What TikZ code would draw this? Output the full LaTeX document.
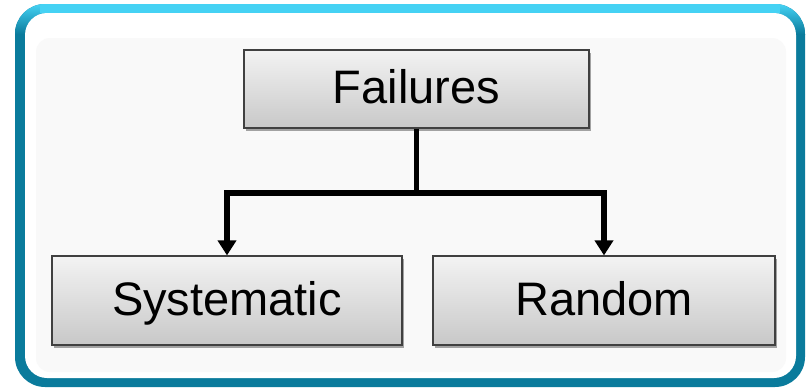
\documentclass[tikz,border=0pt]{standalone}
\usepackage{fontspec}
\setmainfont{Liberation Sans}
\usetikzlibrary{arrows.meta,shadows}
\definecolor{tealdark}{HTML}{0A7B9C}
\definecolor{cyanlight}{HTML}{45D2F4}
\definecolor{boxtop}{HTML}{F3F3F3}
\definecolor{boxbot}{HTML}{C8C8C8}
\definecolor{boxline}{HTML}{404040}
\definecolor{panel}{HTML}{F9F9F9}
\tikzset{
  boxnode/.style={rectangle, draw=boxline, line width=1.2pt, top color=boxtop, bottom color=boxbot,
    inner sep=0pt, font=\fontsize{47}{56}\selectfont, text height=33.7pt, text depth=3pt,
    drop shadow={shadow xshift=2pt, shadow yshift=-3pt, opacity=0.35, fill=black}},
  conn/.style={line width=5.5pt, -{Triangle[length=15pt,width=18pt]}},
  trunk/.style={line width=5.5pt}
}
\begin{document}
\begin{tikzpicture}[x=1pt,y=-1pt]
\useasboundingbox (0,0) rectangle (807,389);
% outer frame
\fill[tealdark, rounded corners=30pt] (15,4) rectangle (805,387);
\begin{scope}
  \clip[rounded corners=30pt] (15,4) rectangle (805,387);
  \shade[top color=cyanlight, bottom color=tealdark] (15,4) rectangle (805,34);
  \fill[cyanlight] (40,4) rectangle (780,13);
\end{scope}
\fill[white, rounded corners=22pt] (25,13) rectangle (796,378);
\fill[panel, rounded corners=14pt] (36,38) rectangle (786,372);
% nodes
\node[boxnode, minimum width=345pt, minimum height=78pt, text depth=5pt] (fail) at (416.5,89) {Failures};
\node[boxnode, minimum width=350pt, minimum height=89pt] (sys) at (227,300.5) {Systematic};
\node[boxnode, minimum width=342pt, minimum height=89pt] (rnd) at (604,300.5) {Random};
% connectors
\coordinate (j) at (416.5,193);
\draw[trunk] (fail.south) -- (j);
\draw[conn] ([xshift=2.75pt]j) -| (sys.north);
\draw[conn] ([xshift=-2.75pt]j) -| (rnd.north);
\end{tikzpicture}
\end{document}
